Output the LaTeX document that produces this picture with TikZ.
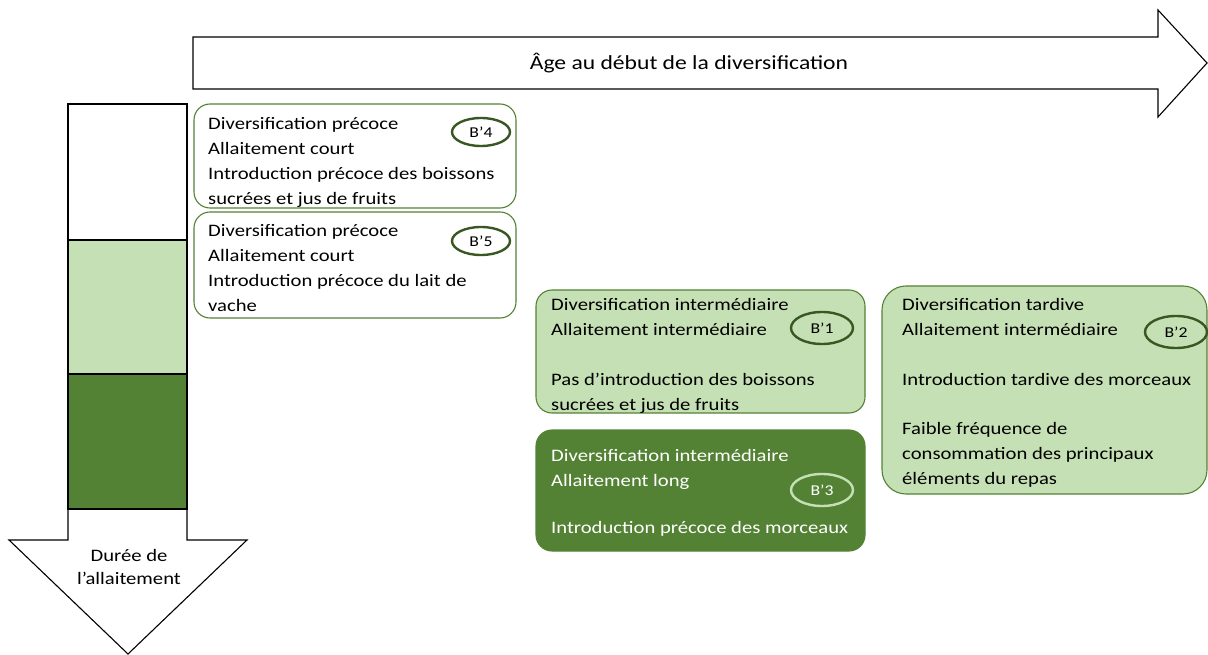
\documentclass[tikz,border=0pt]{standalone}
\usepackage{fontspec}
\setmainfont{Carlito}[FakeStretch=1.18]
\usepackage{xcolor}
\usepackage{tikz}
\usetikzlibrary{shapes.geometric}

\definecolor{lightgreen}{HTML}{C5E0B4}
\definecolor{darkgreen}{HTML}{548235}
\definecolor{deepgreen}{HTML}{385723}

\begin{document}
\begin{tikzpicture}[
			x=1pt, y=-1pt,
			every node/.style={font=\fontsize{17.5}{25}\selectfont},
			outline/.style={draw=black, line width=1.1pt, fill=white},
			clusterbox/.style={draw=darkgreen, line width=1.1pt, rounded corners=16pt},
			boxtext/.style={anchor=north west, inner sep=0pt, align=left},
			badge/.style={draw=deepgreen, ellipse, line width=2.4pt, inner sep=0pt,
				font=\fontsize{15}{17}\selectfont},
			smallbadge/.style={badge, minimum width=58pt, minimum height=28pt},
			bigbadge/.style={badge, minimum width=62pt, minimum height=32pt}
			]
			
			\useasboundingbox (0,0) rectangle (1208,655);
			
			% horizontal axis: age
			\draw[outline] (193,37) -- (1158,37) -- (1158,10) -- (1207,63) -- (1158,117)
				-- (1158,89) -- (193,89) -- cycle;
			\node[font=\fontsize{20}{24}\selectfont] (age) at (689,63) {Âge au début de la diversification};
			
			% vertical axis: breastfeeding duration
			\draw[outline] (68,104) -- (187,104) -- (187,540) -- (247,540) -- (128,654)
				-- (9,540) -- (68,540) -- cycle;
			\fill[lightgreen] (68,240) rectangle (187,374);
			\fill[darkgreen] (68,374) rectangle (187,509);
			\draw[line width=1.1pt] (68,104) rectangle (187,509);
			\draw[line width=1.1pt] (68,240) -- (187,240);
			\draw[line width=1.1pt] (68,374) -- (187,374);
			\node[align=center, font=\fontsize{17.5}{23}\selectfont] (duree) at (129,567) {Durée de\\l’allaitement};
			
			% clusters
			\draw[clusterbox, fill=white] (194,104) rectangle (516,208);
			\node[boxtext] (t4) at (208,117) {Diversification précoce\\Allaitement court\\
				Introduction précoce des boissons\\sucrées et jus de fruits};
			\node[smallbadge] (b4) at (481,132) {B’4};
			
			\draw[clusterbox, fill=white] (194,212) rectangle (516,318);
			\node[boxtext] (t5) at (208,224) {Diversification précoce\\Allaitement court\\
				Introduction précoce du lait de\\vache};
			\node[smallbadge] (b5) at (481,241) {B’5};
			
			\draw[clusterbox, fill=lightgreen] (536,290) rectangle (865,413);
			\node[boxtext] (t1) at (551,298) {Diversification intermédiaire\\
				Allaitement intermédiaire\\[25pt]Pas d’introduction des boissons\\
				sucrées et jus de fruits};
			\node[bigbadge] (b1) at (822,328) {B’1};
			
			\draw[clusterbox, fill=darkgreen] (536,430) rectangle (865,551);
			\node[boxtext, text=white] (t3) at (551,449) {Diversification intermédiaire\\
				Allaitement long\\[22pt]Introduction précoce des morceaux};
			\node[bigbadge, draw=lightgreen, text=white] (b3) at (822,490) {B’3};
			
			\draw[clusterbox, fill=lightgreen, rounded corners=24pt] (882,286) rectangle (1207,494);
			\node[boxtext] (t2) at (902,298) {Diversification tardive\\
				Allaitement intermédiaire\\[25pt]Introduction tardive des morceaux\\[24pt]
				Faible fréquence de\\consommation des principaux\\éléments du repas};
			\node[bigbadge] (b2) at (1176,332) {B’2};
		\end{tikzpicture}
\end{document}
